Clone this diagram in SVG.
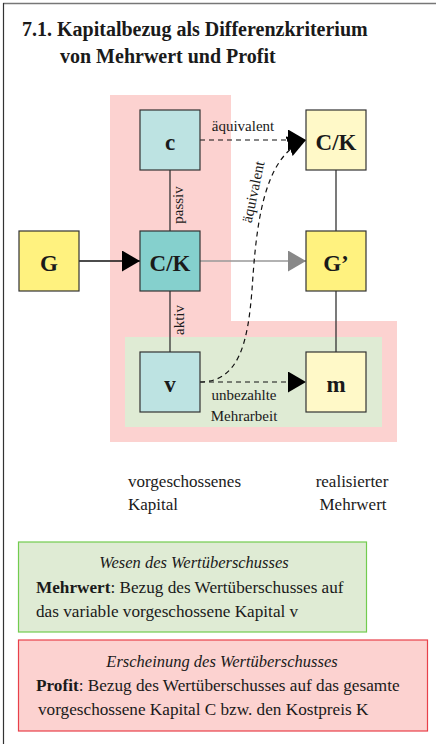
<svg xmlns="http://www.w3.org/2000/svg" width="436" height="744" viewBox="0 0 436 744">
<defs>
<style>
text{font-family:"Liberation Serif","DejaVu Serif",serif;fill:#1a1a1a}
.title{font-size:20px;font-weight:bold}
.node rect{stroke:#333;stroke-width:1.2}
.nl{font-size:23px;font-weight:bold;text-anchor:middle}
.lbl{font-size:15px}
.cap{font-size:17px}
.box{font-size:17.2px}
.it{font-size:16.5px;font-style:italic}
.conn{fill:none;stroke:#333;stroke-width:1.3}
.dash{fill:none;stroke:#111;stroke-width:1.2;stroke-dasharray:5,4}
</style>
<marker id="ab" viewBox="0 0 18 21" markerWidth="18" markerHeight="21" refX="18" refY="10.5" orient="auto" markerUnits="userSpaceOnUse"><path d="M0,0 L18,10.5 L0,21 Z" fill="#000"/></marker>
<marker id="ag" viewBox="0 0 18 21" markerWidth="18" markerHeight="21" refX="18" refY="10.5" orient="auto" markerUnits="userSpaceOnUse"><path d="M0,0 L18,10.5 L0,21 Z" fill="#888"/></marker>
</defs>
<rect width="436" height="744" fill="#fff"/>
<line x1="3" y1="3.5" x2="436" y2="3.5" stroke="#777" stroke-width="1.5"/>
<line x1="3.5" y1="3" x2="3.5" y2="744" stroke="#333" stroke-width="1.2"/>
<g id="title">
<text class="title" x="22" y="36">7.1. Kapitalbezug als Differenzkriterium</text>
<text class="title" x="60" y="63">von Mehrwert und Profit</text>
</g>
<g id="regions">
<path d="M110,95 H231 V321 H397 V442 H110 Z" fill="#fcd2d0"/>
<rect x="125" y="337" width="257" height="90" fill="#dfebd4"/>
</g>
<g id="connectors">
<line class="conn" x1="170" y1="170" x2="170" y2="231"/>
<line class="conn" x1="170" y1="291" x2="170" y2="352"/>
<line class="conn" x1="336" y1="170" x2="336" y2="231"/>
<line class="conn" x1="336" y1="291" x2="336" y2="352"/>
<line x1="79" y1="261" x2="140" y2="261" stroke="#111" stroke-width="1.3" marker-end="url(#ab)"/>
<line x1="200" y1="261" x2="306" y2="261" stroke="#999" stroke-width="1.3" marker-end="url(#ag)"/>
<line class="dash" x1="200" y1="140" x2="306" y2="140" marker-end="url(#ab)"/>
<line class="dash" x1="200" y1="382" x2="306" y2="382" marker-end="url(#ab)"/>
<path class="dash" d="M200,382 C240,382 248,340 252,290 C256,230 262,156 306,140" marker-end="url(#ab)"/>
<text class="lbl" x="243" y="131" text-anchor="middle">äquivalent</text>
<text class="lbl" transform="translate(183,205) rotate(-90)" text-anchor="middle">passiv</text>
<text class="lbl" transform="translate(184,320) rotate(-90)" text-anchor="middle">aktiv</text>
<text class="lbl" transform="translate(258,193) rotate(-78)" text-anchor="middle">äquivalent</text>
<text class="lbl" x="244" y="400" text-anchor="middle">unbezahlte</text>
<text class="lbl" x="244" y="421" text-anchor="middle">Mehrarbeit</text>
</g>
<g id="node-c" class="node"><rect x="140" y="110" width="60" height="60" fill="#bde3e2"/><text class="nl" x="170" y="150">c</text></g>
<g id="node-ck-top" class="node"><rect x="306" y="110" width="60" height="60" fill="#fff9c8"/><text class="nl" x="336" y="149.5">C/K</text></g>
<g id="node-g" class="node"><rect x="19" y="231" width="60" height="60" fill="#fff27f"/><text class="nl" x="49" y="270.5">G</text></g>
<g id="node-ck" class="node"><rect x="140" y="231" width="60" height="60" fill="#85d0cd"/><text class="nl" x="170" y="270.5">C/K</text></g>
<g id="node-g2" class="node"><rect x="306" y="231" width="60" height="60" fill="#fff27f"/><text class="nl" x="336" y="270.5">G’</text></g>
<g id="node-v" class="node"><rect x="140" y="352" width="60" height="60" fill="#bde3e2"/><text class="nl" x="170" y="392">v</text></g>
<g id="node-m" class="node"><rect x="306" y="352" width="60" height="60" fill="#fff9c8"/><text class="nl" x="336" y="392">m</text></g>
<g id="captions">
<text class="cap" x="128" y="487">vorgeschossenes</text>
<text class="cap" x="128" y="510">Kapital</text>
<text class="cap" x="352" y="487" text-anchor="middle">realisierter</text>
<text class="cap" x="353" y="510" text-anchor="middle">Mehrwert</text>
</g>
<g id="box-wesen">
<rect x="18.5" y="542" width="348" height="90" fill="#dfebd4" stroke="#72cc4f" stroke-width="1.2"/>
<text class="it" x="194" y="568" text-anchor="middle">Wesen des Wertüberschusses</text>
<text class="box" x="36" y="593"><tspan font-weight="bold">Mehrwert</tspan>: Bezug des Wertüberschusses auf</text>
<text class="box" x="36" y="617">das variable vorgeschossene Kapital v</text>
</g>
<g id="box-erscheinung">
<rect x="18.5" y="640" width="409" height="91" fill="#fcd2d0" stroke="#e8404a" stroke-width="1.2"/>
<text class="it" x="222" y="667" text-anchor="middle">Erscheinung des Wertüberschusses</text>
<text class="box" x="36" y="691"><tspan font-weight="bold">Profit</tspan>: Bezug des Wertüberschusses auf das gesamte</text>
<text class="box" x="38" y="715">vorgeschossene Kapital C bzw. den Kostpreis K</text>
</g>
</svg>
